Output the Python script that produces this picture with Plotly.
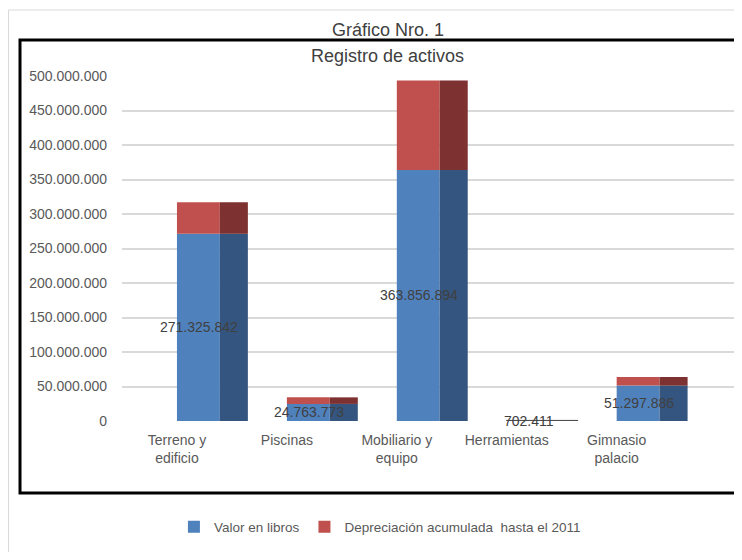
import plotly.graph_objects as go

categories = ["Terreno y<br>edificio", "Piscinas", "Mobiliario y<br>equipo", "Herramientas", "Gimnasio<br>palacio"]
valor_libros = [271325842, 24763773, 363856894, 702411, 51297886]
depreciacion = [45700000, 9500000, 129500000, 150000, 12500000]
y_ticks = list(range(0, 500000001, 50000000))

FONT = "Liberation Sans, Arial, sans-serif"
BLUE, BLUE_SIDE = "#4F81BD", "#34557F"
RED, RED_SIDE = "#C0504D", "#7D3130"

xs = list(range(len(categories)))
FRONT_W, SIDE_W = 0.39, 0.255
CLEAR = "rgba(0,0,0,0)"
edge = [CLEAR, CLEAR, CLEAR, "#505050", CLEAR]

fig = go.Figure()
# blue front + side
fig.add_trace(go.Bar(x=xs, y=valor_libros, base=[0]*5, offset=0, width=FRONT_W,
                     marker=dict(color=BLUE, line=dict(color=edge, width=1)),
                     name="Valor en libros", showlegend=True))
fig.add_trace(go.Bar(x=xs, y=valor_libros, base=[0]*5, offset=FRONT_W, width=SIDE_W,
                     marker=dict(color=BLUE_SIDE, line=dict(color=edge, width=1)),
                     name="Valor en libros", showlegend=False))
# red front + side
fig.add_trace(go.Bar(x=xs, y=depreciacion, base=valor_libros, offset=0, width=FRONT_W,
                     marker=dict(color=RED, line=dict(color=edge, width=1)),
                     name="Depreciación acumulada  hasta el 2011", showlegend=True))
fig.add_trace(go.Bar(x=xs, y=depreciacion, base=valor_libros, offset=FRONT_W, width=SIDE_W,
                     marker=dict(color=RED_SIDE, line=dict(color=edge, width=1)),
                     name="Depreciación acumulada  hasta el 2011", showlegend=False))

def fmt(v):
    return f"{v:,}".replace(",", ".")

for i, v in enumerate(valor_libros):
    fig.add_annotation(x=i + 0.2, y=v / 2, xref="x", yref="y", text=fmt(v), showarrow=False,
                       xanchor="center", yanchor="middle",
                       font=dict(family=FONT, size=14, color="#404040"))

shapes = [
    dict(type="rect", xref="paper", yref="paper", x0=-0.1830, x1=1.03, y0=-0.45, y1=1.1913,
         line=dict(color="#d9d9d9", width=1), layer="below"),
    dict(type="rect", xref="paper", yref="paper", x0=-0.1645, x1=1.01, y0=-0.2087, y1=1.1043,
         line=dict(color="black", width=3), layer="above"),
]

fig.add_annotation(x=0.429, y=1.133, xref="paper", yref="paper", text="Gráfico Nro. 1",
                   showarrow=False, xanchor="center", yanchor="middle",
                   font=dict(family=FONT, size=18, color="#404040"))
fig.add_annotation(x=0.429, y=1.058, xref="paper", yref="paper", text="Registro de activos",
                   showarrow=False, xanchor="center", yanchor="middle",
                   font=dict(family=FONT, size=18, color="#404040"))

fig.update_layout(
    width=734, height=544,
    margin=dict(l=114, r=0, t=68, b=131),
    paper_bgcolor="white", plot_bgcolor="white",
    barmode="overlay",
    separators=",.",
    shapes=shapes,
    font=dict(family=FONT, size=13, color="#595959"),
    legend=dict(orientation="h", x=0.416, xanchor="center", y=-0.307, yanchor="middle",
                font=dict(family=FONT, size=13.5, color="#595959"), traceorder="normal"),
    xaxis=dict(range=[-0.5, 5.14], tickvals=xs, ticktext=categories, showgrid=False,
               zeroline=False, showline=False, ticks="", ticklabelstandoff=9,
               tickfont=dict(size=14)),
    yaxis=dict(range=[0, 500000000], tickvals=y_ticks, tickformat=",d", showgrid=True,
               gridcolor="#d9d9d9", gridwidth=1.5, zeroline=False, showline=False,
               ticklabelstandoff=14, tickfont=dict(size=14)),
)

fig.write_html("out.html")
